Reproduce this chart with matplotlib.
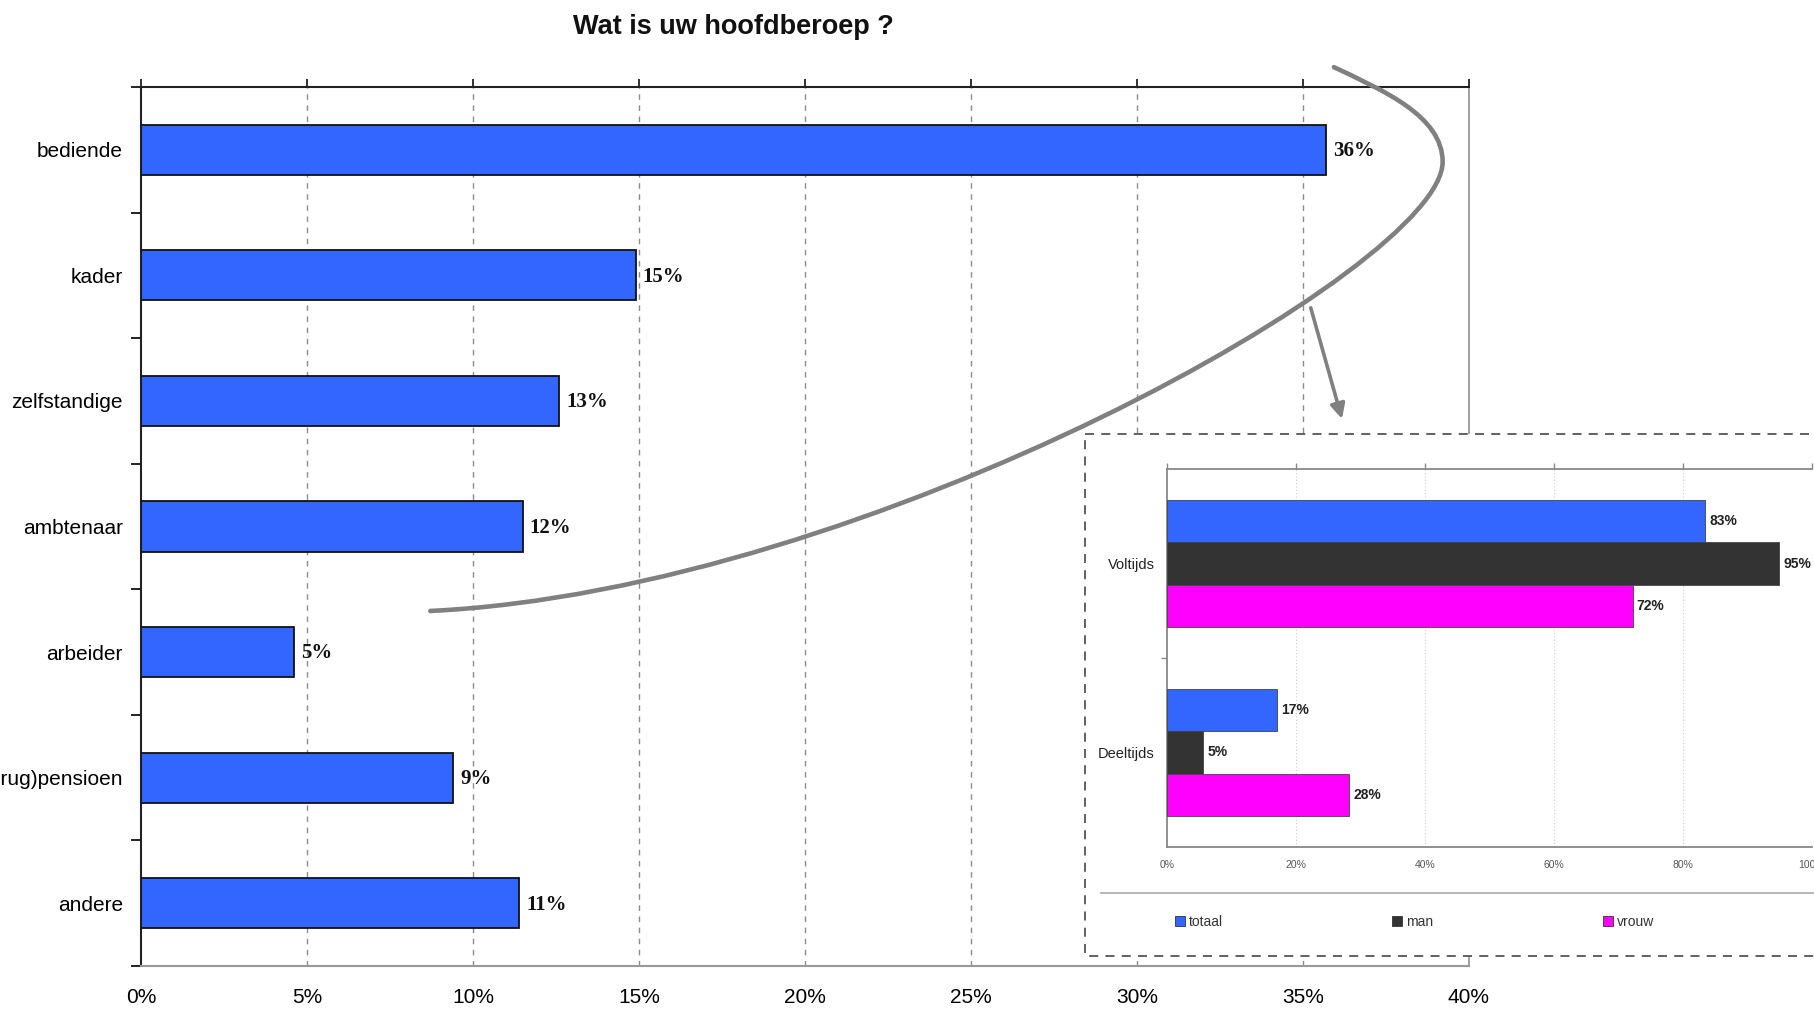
import numpy as np
import matplotlib
matplotlib.use("Agg")
import matplotlib.pyplot as plt
from matplotlib.patches import Rectangle, Patch, PathPatch
from matplotlib.path import Path

# ---------------- data ----------------
categories = ["bediende", "kader", "zelfstandige", "ambtenaar", "arbeider",
              "(brug)pensioen", "andere"]
values = [35.7, 14.9, 12.6, 11.5, 4.6, 9.4, 11.4]
value_labels = ["36%", "15%", "13%", "12%", "5%", "9%", "11%"]
x_ticks = [0, 5, 10, 15, 20, 25, 30, 35, 40]
x_tick_labels = ["0%", "5%", "10%", "15%", "20%", "25%", "30%", "35%", "40%"]

inset_categories = ["Voltijds", "Deeltijds"]
inset_series = ["totaal", "man", "vrouw"]
inset_totaal = [83.4, 17.1]
inset_man = [94.9, 5.6]
inset_vrouw = [72.2, 28.2]
inset_totaal_labels = ["83%", "17%"]
inset_man_labels = ["95%", "5%"]
inset_vrouw_labels = ["72%", "28%"]
inset_x_ticks = [0, 20, 40, 60, 80, 100]
inset_x_tick_labels = ["0%", "20%", "40%", "60%", "80%", "100%"]

title = "Wat is uw hoofdberoep ?"

# ---------------- style ----------------
W, H = 1814, 1009
plt.rcParams['font.family'] = ['Liberation Sans', 'DejaVu Sans']
BLUE = "#3366FF"
DARK = "#333333"
MAG = "#FF00FF"

fig = plt.figure(figsize=(W / 100, H / 100), dpi=100)
fig.patch.set_facecolor("white")

def fx(px):
    return px / W

def fy(py):
    return 1 - py / H

# ---------------- main axes ----------------
L, R, T, B = 141, 1469, 87, 966
ax = fig.add_axes([fx(L), fy(B), fx(R) - fx(L), fy(T) - fy(B)])
ax.set_zorder(0)
ypos = np.arange(len(categories))
ax.barh(ypos, values, height=0.4, color=BLUE, edgecolor="#111111",
        linewidth=1.3, zorder=3)
ax.set_xlim(0, 40)
ax.set_ylim(len(categories) - 0.5, -0.5)

for y, v, lab in zip(ypos, values, value_labels):
    ax.annotate(lab, xy=(v, y), xytext=(5, -1), textcoords="offset points",
                ha="left", va="center", fontsize=15, fontweight="bold",
                family=["Liberation Serif", "DejaVu Serif"], color="#111111",
                zorder=4)

ax.set_xticks(x_ticks)
ax.set_xticklabels(x_tick_labels, fontsize=15)
ax.tick_params(axis="x", top=True, bottom=False, labeltop=False,
               labelbottom=True, direction="out", length=6, width=1.3,
               color="#222222", pad=10)
ax.set_yticks(ypos)
ax.set_yticklabels(categories, fontsize=15)
ax.tick_params(axis="y", which="major", length=0, pad=13)
ax.set_yticks(np.arange(-0.5, len(categories)), minor=True)
ax.tick_params(axis="y", which="minor", length=7, width=1.4,
               direction="out", color="#222222")

for g in x_ticks[1:-1]:
    ax.axvline(g, color="#8c8c8c", lw=1.0, ls=(0, (4, 4)), zorder=1)

ax.spines["top"].set_color("#222222")
ax.spines["top"].set_linewidth(1.5)
ax.spines["left"].set_color("#222222")
ax.spines["left"].set_linewidth(1.5)
ax.spines["bottom"].set_color("#999999")
ax.spines["bottom"].set_linewidth(1.5)
ax.spines["right"].set_color("#999999")
ax.spines["right"].set_linewidth(1.3)

fig.text(fx(733), fy(27), title, ha="center", va="center",
         fontsize=19.5, fontweight="bold", color="#111111")

# ---------------- overlay (box + curve + arrow) ----------------
ov = fig.add_axes([0, 0, 1, 1])
ov.set_zorder(1)
ov.patch.set_alpha(0)
ov.set_xlim(0, 1568)
ov.set_ylim(872, 0)
ov.axis("off")

box = Rectangle((938, 375), 700, 451, facecolor="white", edgecolor="#555555",
                lw=1.3, ls=(0, (5, 4)), zorder=1)
ov.add_patch(box)
ov.plot([952, 1568], [772, 772], color="#aaaaaa", lw=1.2, zorder=2)

verts = [(1153, 58), (1195, 78), (1247, 100), (1247, 140),
         (1247, 230), (750, 510), (372, 528)]
codes = [Path.MOVETO, Path.CURVE4, Path.CURVE4, Path.CURVE4,
         Path.CURVE4, Path.CURVE4, Path.CURVE4]
ov.add_patch(PathPatch(Path(verts, codes), facecolor="none",
                       edgecolor="#808080", lw=3.3, capstyle="round",
                       zorder=3))
ov.annotate("", xy=(1160, 362), xytext=(1133, 266),
            arrowprops=dict(arrowstyle="-|>", color="#808080", lw=2.6,
                            mutation_scale=22, shrinkA=0, shrinkB=0),
            zorder=3)

# ---------------- inset axes ----------------
iL, iR, iT, iB = 1167, 1812, 469, 847
ai = fig.add_axes([fx(iL), fy(iB), fx(iR) - fx(iL), fy(iT) - fy(iB)])
ai.set_zorder(2)
ai.patch.set_facecolor("white")
iy = np.arange(len(inset_categories))
h = 0.223
series = [(inset_totaal, inset_totaal_labels, BLUE),
          (inset_man, inset_man_labels, DARK),
          (inset_vrouw, inset_vrouw_labels, MAG)]
for k, (vals, labs, col) in enumerate(series):
    pos = iy + (k - 1) * h
    ai.barh(pos, vals, height=h, color=col, edgecolor="#444444",
            linewidth=0.6, zorder=3)
    for p, v, lab in zip(pos, vals, labs):
        ai.annotate(lab, xy=(v, p), xytext=(3, 0), textcoords="offset points",
                    ha="left", va="center", fontsize=10, fontweight="bold",
                    color="#222222", zorder=4)
ai.set_xlim(0, 100)
ai.set_ylim(len(inset_categories) - 0.5, -0.5)
ai.set_xticks(inset_x_ticks)
ai.set_xticklabels(inset_x_tick_labels, fontsize=7.5, color="#555555")
ai.tick_params(axis="x", top=True, bottom=False, labeltop=False,
               labelbottom=True, direction="out", length=4, width=1,
               color="#888888", pad=5)
ai.set_yticks(iy)
ai.set_yticklabels(inset_categories, fontsize=10.5, color="#222222")
ai.tick_params(axis="y", which="major", length=0, pad=9)
ai.set_yticks([0.5], minor=True)
ai.tick_params(axis="y", which="minor", length=4, width=1,
               direction="out", color="#888888")
for g in inset_x_ticks[1:]:
    ai.axvline(g, color="#cccccc", lw=0.8, ls=(0, (1, 2)), zorder=1)
for s in ["top", "left", "bottom"]:
    ai.spines[s].set_color("#888888")
    ai.spines[s].set_linewidth(1.3)
ai.spines["right"].set_visible(False)

handles = [Patch(facecolor=c, edgecolor="#333333", lw=0.6)
           for c in (BLUE, DARK, MAG)]
fig.legend(handles, inset_series, loc="center left",
           bbox_to_anchor=(fx(1168), fy(922)), ncol=3, frameon=False,
           fontsize=10, handlelength=0.7, handleheight=0.7,
           handletextpad=0.3, columnspacing=12.2, borderpad=0,
           labelcolor="#333333")

fig.savefig("out.png", dpi=100, facecolor="white")
